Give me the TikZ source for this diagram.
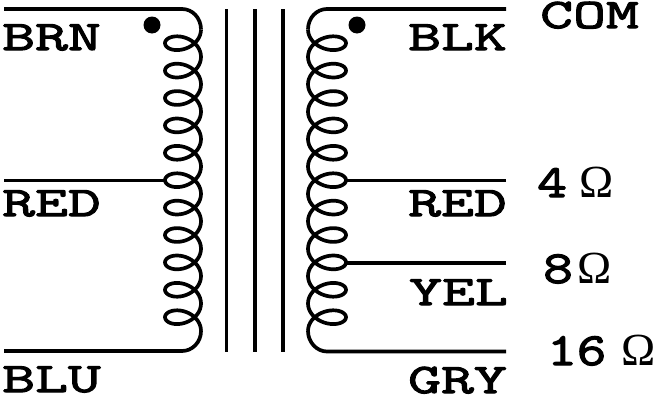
\documentclass[tikz,border=0pt]{standalone}
\usepackage{fontspec}
\newfontfamily\symfont{Liberation Serif}
\newfontfamily\labfont[FakeBold=2.8,FakeStretch=1.52]{Latin Modern Mono}
\newfontfamily\numfont[FakeBold=2.8,FakeStretch=1.25]{Latin Modern Mono}
\tikzset{
  x=1pt,y=-1pt,
  wire/.style={line width=3.7pt,line join=round},
  lab/.style={font=\fontsize{42}{42}\selectfont\labfont,inner sep=0pt,text=black},
  ohm/.style={font=\fontsize{46}{46}\selectfont\symfont,inner sep=0pt},
  num/.style={font=\fontsize{46}{46}\selectfont\numfont,inner sep=0pt},
  dot/.style={circle,fill=black,inner sep=0pt,minimum size=17pt}
}
\begin{document}
\begin{tikzpicture}
\useasboundingbox (0,0) rectangle (656,399);
% named points
\coordinate (ltop) at (4,9);
\coordinate (lred) at (4,180.5);
\coordinate (lredc) at (165,180.5);
\coordinate (lbot) at (4,351);
\coordinate (rtop) at (506,9);
\coordinate (rred) at (506,180.5);
\coordinate (rredc) at (347,180.5);
\coordinate (ryel) at (506,263);
\coordinate (ryelc) at (347,263);
\coordinate (rbot) at (506,351.5);
% left coil
\draw[wire] (ltop) -- (182,9) .. controls (192.5,9) and (201,18) .. (201,29.5);
\draw[wire] plot[domain=0:69.115,samples=441] ({183+18*cos(\x r)},{29.5+27.4*\x/6.2832+13*sin(\x r)});
\draw[wire] (201,331) .. controls (201,342) and (192.5,351) .. (182,351) -- (lbot);
\draw[wire] (lred) -- (lredc);
% right coil
\draw[wire] (rtop) -- (327,9) .. controls (316.5,9) and (308,18) .. (308,29.5);
\draw[wire] plot[domain=0:69.115,samples=441] ({327-19*cos(\x r)},{29.5+27.4*\x/6.2832+13*sin(\x r)});
\draw[wire] (308,331) .. controls (308,342) and (316.5,351.5) .. (327,351.5) -- (rbot);
\draw[wire] (rred) -- (rredc);
\draw[wire] (ryel) -- (ryelc);
% core
\foreach \cx/\nm in {226.5/a,255/b,283/c}{
  \coordinate (c\nm t) at (\cx,9);
  \coordinate (c\nm b) at (\cx,352);
  \draw[wire] (c\nm t) -- (c\nm b);
}
% dots
\node[dot] (dl) at (152,25) {};
\node[dot] (dr) at (357,25) {};
% labels
\node[lab,anchor=base west] (brn) at (2,50) {BRN};
\node[lab,anchor=base east] (blk) at (507,50) {BLK};
\node[lab,anchor=base west] (redl) at (2,216) {RED};
\node[lab,anchor=base east] (redr) at (507,216) {RED};
\node[lab,anchor=base east] (yel) at (508,305) {YEL};
\node[lab,anchor=base west] (blu) at (2,392) {BLU};
\node[lab,anchor=base east] (gry) at (507,393) {GRY};
\node[lab,anchor=base west] (com) at (540,28) {COM};
\node[num,anchor=base west] (four) at (537,197) {4};
\node[ohm,anchor=base west] (o4) at (579,197) {Ω};
\node[num,anchor=base west] (eight) at (543,283) {8};
\node[ohm,anchor=base west] (o8) at (577,283) {Ω};
\node[num,anchor=base west] (sixteen) at (547,365) {16};
\node[ohm,anchor=base west] (o16) at (621,365) {Ω};
\end{tikzpicture}
\end{document}
